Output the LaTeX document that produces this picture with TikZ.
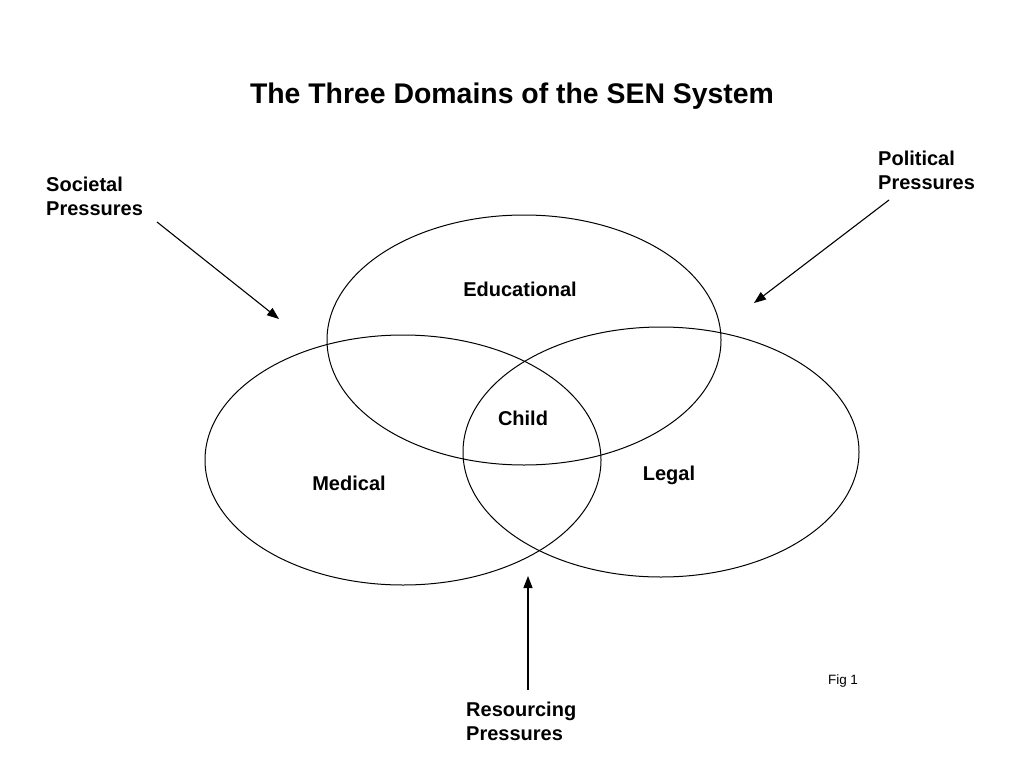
\documentclass[tikz,border=0pt]{standalone}
\usepackage{fontspec}
\setmainfont{Liberation Sans}
\usepackage{tikz}
\usetikzlibrary{arrows.meta}

\begin{document}
\begin{tikzpicture}[x=1pt,y=1pt,yscale=-1,xscale=1,
  sphere/.style={line width=1pt},
  lbl/.style={inner sep=0pt,font=\fontsize{20}{24}\selectfont\bfseries,align=left},
  pressure/.style={line width=1.1pt,-{Triangle[length=12pt,width=9pt]}}]
\useasboundingbox (0,0) rectangle (1024,768);

%Title
\node (title) at (512,96) [inner sep=0pt,font=\fontsize{28.4}{32}\selectfont\bfseries] {The Three Domains of the SEN System};

%Shape: Ellipse Educational
\draw [sphere] (524,340) ellipse [x radius=197, y radius=125];
%Shape: Ellipse Medical
\draw [sphere] (403,460) ellipse [x radius=198, y radius=125];
%Shape: Ellipse Legal
\draw [sphere] (661,452) ellipse [x radius=198, y radius=125];

% Text Node
\node (educational) at (520,289) [lbl] {Educational};
% Text Node
\node (child) at (523,418) [lbl] {Child};
% Text Node
\node (medical) at (349,483) [lbl] {Medical};
% Text Node
\node (legal) at (669,475) [lbl] {Legal};

% Text Node
\node (societal) at (46,196) [lbl,anchor=west] {Societal\\Pressures};
% Text Node
\node (political) at (878,170) [lbl,anchor=west] {Political\\Pressures};
% Text Node
\node (resourcing) at (466,721) [lbl,anchor=west] {Resourcing\\Pressures};
% Text Node
\node (fig) at (843,681) [inner sep=0pt,font=\fontsize{13.5}{16}\selectfont] {Fig 1};

%Straight Lines
\coordinate (societal tail) at (157,222);
\coordinate (societal head) at (279,319);
\draw [pressure] (societal tail) -- (societal head);
%Straight Lines
\coordinate (political tail) at (889,200);
\coordinate (political head) at (754,303);
\draw [pressure] (political tail) -- (political head);
%Straight Lines
\coordinate (resourcing tail) at (528,690);
\coordinate (resourcing head) at (528,576);
\draw [pressure] (resourcing tail) -- (resourcing head);

\end{tikzpicture}
\end{document}
